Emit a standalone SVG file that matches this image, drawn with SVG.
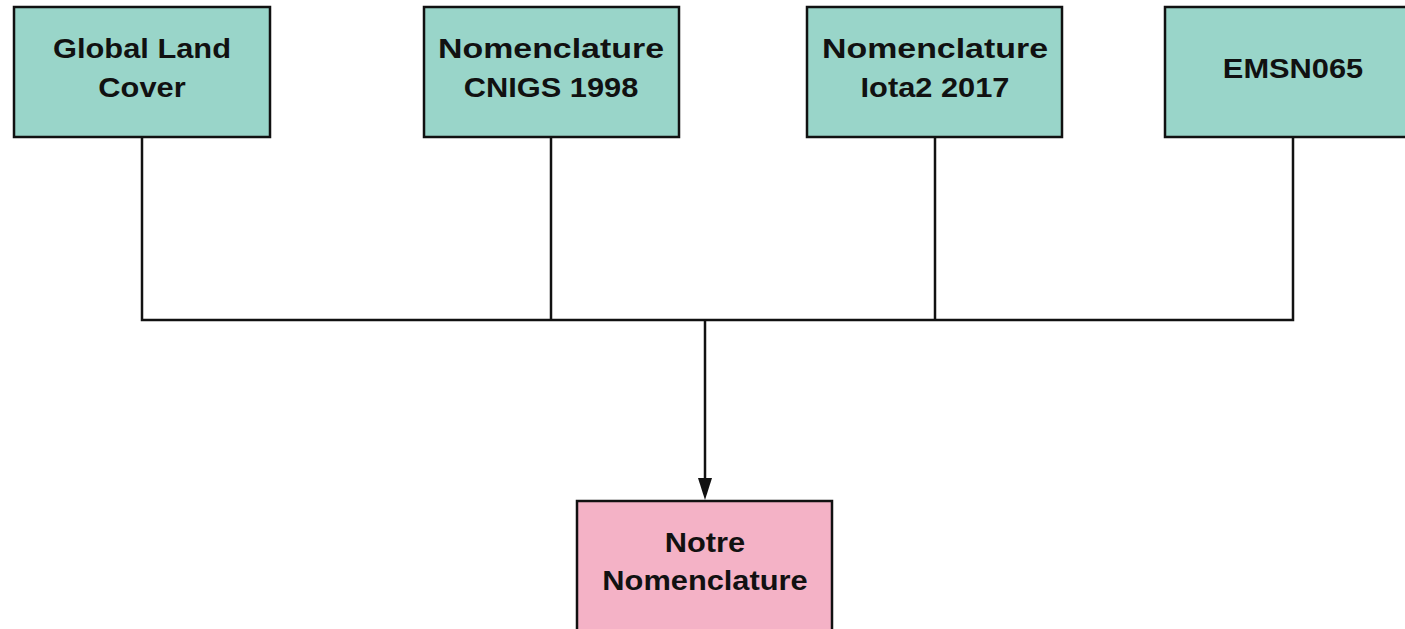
<svg xmlns="http://www.w3.org/2000/svg" width="1405" height="629" viewBox="0 0 1405 629">
<style>
.box{stroke:#111;stroke-width:2.5}
.src{fill:#99d5c9}
.dst{fill:#f4b2c6}
.t{font-family:"Liberation Sans",Arial,sans-serif;font-weight:bold;font-size:28px;fill:#111;text-anchor:middle}
.c{fill:none;stroke:#111;stroke-width:2.5}
</style>
<rect width="1405" height="629" fill="#fff"/>
<g id="connectors">
<path class="c" d="M142,137 V320 H1293 V137"/>
<path class="c" d="M551,137 V320"/>
<path class="c" d="M935,137 V320"/>
<path class="c" d="M705,320 V480"/>
<path d="M698,478 L712,478 L705,500 Z" fill="#111"/>
</g>
<g id="n1"><rect class="box src" x="14" y="7" width="256" height="130"/><text class="t" transform="translate(142,58) scale(1.1,1)">Global Land</text><text class="t" transform="translate(142,97) scale(1.1,1)">Cover</text></g>
<g id="n2"><rect class="box src" x="424" y="7" width="255" height="130"/><text class="t" x="551" y="58" textLength="226" lengthAdjust="spacingAndGlyphs">Nomenclature</text><text class="t" transform="translate(551,97) scale(1.1,1)">CNIGS 1998</text></g>
<g id="n3"><rect class="box src" x="807" y="7" width="255" height="130"/><text class="t" x="935" y="58" textLength="226" lengthAdjust="spacingAndGlyphs">Nomenclature</text><text class="t" transform="translate(935,97) scale(1.1,1)">Iota2 2017</text></g>
<g id="n4"><rect class="box src" x="1165" y="7" width="256" height="130"/><text class="t" transform="translate(1293,78) scale(1.1,1)">EMSN065</text></g>
<g id="n5"><rect class="box dst" x="577" y="501" width="255" height="140"/><text class="t" transform="translate(705,552) scale(1.1,1)">Notre</text><text class="t" transform="translate(705,590) scale(1.1,1)">Nomenclature</text></g>
</svg>
